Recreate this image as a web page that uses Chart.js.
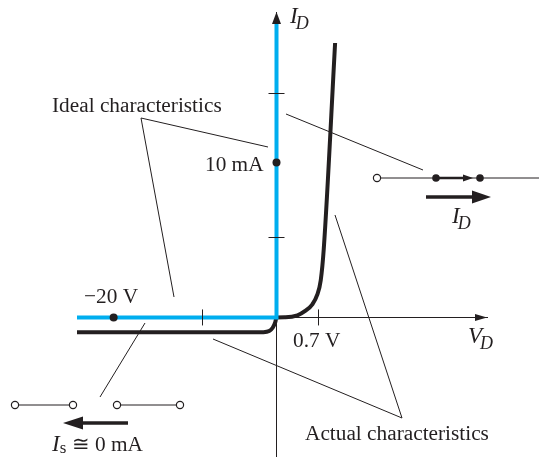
<!DOCTYPE html>
<html>
<head>
<meta charset="utf-8">
<style>
  html, body { margin: 0; padding: 0; background: #fff; }
  #wrap { width: 539px; height: 457px; }
</style>
<script src="https://cdn.jsdelivr.net/npm/chart.js@4/dist/chart.umd.min.js"></script>
</head>
<body>
<div id="wrap"><canvas id="chart1" width="539" height="457"></canvas></div>
<script>
// curves, volts / mA
const ideal_v = [-24.5, 0, 0];
const ideal_i = [0, 0, 19];
const actual_v = [-24.5, -1.6, -0.9, -0.45, -0.15, 0, 0.15, 0.35, 0.48, 0.6, 0.68, 0.74, 0.79, 0.98];
const actual_i = [-0.95, -0.95, -0.88, -0.65, -0.3, 0, 0.02, 0.14, 0.42, 0.85, 1.45, 2.4, 4.4, 17.7];
const marked_v = [-20, 0];
const marked_i = [0, 10];

const tick_v = [-9.2, 0.7];
const tick_i = [5.16, 14.45];

// axis limits, the two sides of V_D are not drawn to the same scale
const v_min = -24.5, v_max = 3.52, v_split = 199.5 / 410;
const i_min = -9, i_max = 19.7;

const ink = '#231f20';
const blue = '#00aeef';

// side sketches are placed on a plain page grid (px/py axes), not on V/I
const leader_lines = [
  [[268, 147], [141, 118], [174, 297]],
  [[286, 114], [423, 170]],
  [[213, 339], [402, 418], [335, 215]],
  [[145, 323], [100, 397]],
  [[15, 405], [73, 405]],
  [[117, 405], [180, 405]],
  [[377, 178], [539, 178]]
];
const open_circles = [[15, 405], [73, 405], [117, 405], [180, 405], [377, 178]];
const solid_dots = [[436, 178], [480, 178]];
const arrows = [
  { from: [128, 423], to: [63, 423], head: 20, half: 6.5, width: 3.5 },
  { from: [426, 197], to: [491, 197], head: 19, half: 6.5, width: 3.5 },
  { from: [436, 178], to: [473, 178], head: 10, half: 3.5, width: 2.5 },
  { from: [276.5, 24], to: [276.5, 12], head: 12, half: 4.5, width: 1 },
  { from: [478, 317.5], to: [487, 317.5], head: 12, half: 3.5, width: 1 }
];
const labels = [
  { x: 52, y: 112, parts: [['Ideal characteristics', 'r']] },
  { x: 205, y: 171, parts: [['10 mA', 'r']] },
  { x: 84, y: 303, parts: [['\u221220 V', 'r']] },
  { x: 293, y: 347, parts: [['0.7 V', 'r']] },
  { x: 305, y: 440, parts: [['Actual characteristics', 'r']] },
  { x: 290, y: 23, parts: [['I', 'i'], ['D', 'sub']] },
  { x: 468, y: 343, parts: [['V', 'i'], ['D', 'sub']] },
  { x: 452, y: 223, parts: [['I', 'i'], ['D', 'sub']] },
  { x: 52, y: 451, parts: [['I', 'i'], ['s', 'subr'], [' \u2245 0 mA', 'r']] }
];

const toPoints = (xs, ys) => xs.map((x, k) => ({ x: x, y: ys[k] }));
const toPage = pts => pts.map(p => ({ x: p[0], y: p[1] }));

// linear scale with a different px/V on each side of the origin
class DiodeScale extends Chart.LinearScale {
  getPixelForValue(value) {
    const f = value < 0 ? v_split * (1 - value / v_min) : v_split + (1 - v_split) * value / v_max;
    return this.left + this.width * f;
  }
}
DiodeScale.id = 'diode';
DiodeScale.defaults = Chart.LinearScale.defaults;
Chart.register(DiodeScale);

const sketch = {
  id: 'sketch',
  afterDraw(chart) {
    const c = chart.ctx, px = chart.scales.px, py = chart.scales.py;
    const sx = chart.scales.x, sy = chart.scales.y;
    c.save();
    c.strokeStyle = ink;
    c.fillStyle = ink;

    // axis tick marks cross the axis
    c.lineWidth = 1;
    tick_v.forEach(v => {
      const x = Math.round(sx.getPixelForValue(v)) + 0.5, y = sy.getPixelForValue(0);
      c.beginPath(); c.moveTo(x, y - 8); c.lineTo(x, y + 8); c.stroke();
    });
    tick_i.forEach(i => {
      const x = sx.getPixelForValue(0), y = Math.round(sy.getPixelForValue(i)) + 0.5;
      c.beginPath(); c.moveTo(x - 8, y); c.lineTo(x + 8, y); c.stroke();
    });

    arrows.forEach(a => {
      const x0 = px.getPixelForValue(a.from[0]), y0 = py.getPixelForValue(a.from[1]);
      const x1 = px.getPixelForValue(a.to[0]), y1 = py.getPixelForValue(a.to[1]);
      const ang = Math.atan2(y1 - y0, x1 - x0);
      c.save();
      c.translate(x1, y1);
      c.rotate(ang);
      const len = Math.hypot(x1 - x0, y1 - y0);
      c.lineWidth = a.width;
      c.beginPath(); c.moveTo(-len, 0); c.lineTo(-a.head + 1, 0); c.stroke();
      c.beginPath(); c.moveTo(0, 0); c.lineTo(-a.head, -a.half); c.lineTo(-a.head, a.half); c.closePath(); c.fill();
      c.restore();
    });

    // chart.js skips points outside the chart area, so these go here
    c.lineWidth = 1.2;
    c.fillStyle = '#fff';
    open_circles.forEach(p => {
      c.beginPath();
      c.arc(px.getPixelForValue(p[0]), py.getPixelForValue(p[1]), 3.6, 0, Math.PI * 2);
      c.fill();
      c.stroke();
    });
    c.fillStyle = ink;

    c.textBaseline = 'alphabetic';
    c.textAlign = 'left';
    labels.forEach(l => {
      let x = px.getPixelForValue(l.x);
      const y = py.getPixelForValue(l.y);
      l.parts.forEach(p => {
        const kind = p[1];
        let dy = 0;
        if (kind === 'r') c.font = '21.3px "Liberation Serif"';
        if (kind === 'i') c.font = 'italic 23px "Liberation Serif"';
        if (kind === 'sub') { c.font = 'italic 18px "Liberation Serif"'; dy = 6; x -= 2; }
        if (kind === 'subr') { c.font = '17px "Liberation Serif"'; dy = 2; }
        c.fillText(p[0], x, y + dy);
        x += c.measureText(p[0]).width;
      });
    });
    c.restore();
  }
};

const pageSet = (data, extra) => Object.assign({
  data: toPage(data),
  xAxisID: 'px',
  yAxisID: 'py',
  borderColor: ink,
  borderWidth: 1,
  pointRadius: 0,
  clip: false,
  order: 3
}, extra);

const datasets = [
  {
    label: 'Actual characteristics',
    data: toPoints(actual_v, actual_i),
    borderColor: ink,
    borderWidth: 4,
    pointRadius: 0,
    cubicInterpolationMode: 'monotone',
    order: 2
  },
  {
    label: 'Ideal characteristics',
    data: toPoints(ideal_v, ideal_i),
    borderColor: blue,
    borderWidth: 4,
    borderJoinStyle: 'miter',
    pointRadius: 0,
    order: 1
  },
  {
    label: 'Marked points',
    data: toPoints(marked_v, marked_i),
    showLine: false,
    pointRadius: 4,
    pointBackgroundColor: ink,
    pointBorderWidth: 0,
    order: 0
  }
];
leader_lines.forEach(l => datasets.push(pageSet(l)));
datasets.push(pageSet(solid_dots, {
  showLine: false, pointRadius: 3.8, pointBackgroundColor: ink, pointBorderWidth: 0, order: 0
}));

const chart1 = new Chart(document.getElementById('chart1'), {
  type: 'line',
  data: { datasets: datasets },
  plugins: [sketch],
  options: {
    responsive: false,
    animation: false,
    layout: { autoPadding: false, padding: { left: 77, right: 52, top: 12, bottom: 0 } },
    plugins: { legend: { display: false }, tooltip: { enabled: false } },
    scales: {
      x: {
        type: 'diode',
        min: v_min,
        max: v_max,
        position: { y: 0 },
        grid: { display: false, drawTicks: false },
        ticks: { display: false },
        border: { display: true, color: ink, width: 1 }
      },
      y: {
        type: 'linear',
        min: i_min,
        max: i_max,
        position: { x: 0 },
        grid: { display: false, drawTicks: false },
        ticks: { display: false },
        border: { display: true, color: ink, width: 1 }
      },
      px: { type: 'linear', display: false, min: 77, max: 487 },
      py: { type: 'linear', display: false, min: 12, max: 457, reverse: true }
    }
  }
});
chart1;
</script>
</body>
</html>
